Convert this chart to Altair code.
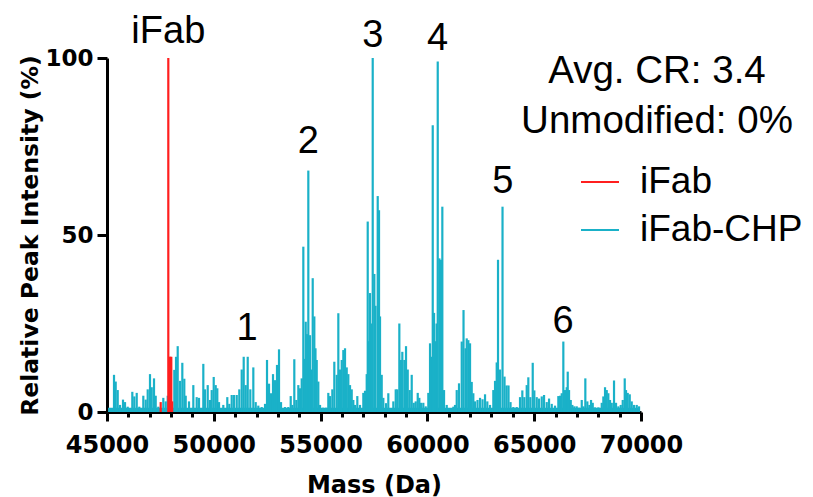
import altair as alt
import pandas as pd

# ---- data ----
chp_mass = [45328, 45407, 45501, 45609, 45749, 45843, 45969, 46185, 46278, 46391, 46512, 46700, 46812,
            46906, 47013, 47093, 47201, 47280, 47402, 47636, 47748, 47842, 48151, 48231, 48310, 48418,
            48526, 48619, 48685, 48839, 49041, 49200, 49307, 49509, 49588, 49715, 49822, 49902, 49996,
            50089, 50164, 50244, 50445, 50632, 50726, 50838, 50946, 51073, 51194, 51307, 51400, 51494,
            51588, 51709, 51850, 51962, 52084, 52243, 52398, 52491, 52585, 52678, 52772, 52866, 52959,
            53053, 53147, 53334, 53488, 53601, 53676, 53769, 53863, 53957, 54036, 54116, 54191, 54250,
            54303, 54360, 54425, 54504, 54570, 54631, 54706, 54760, 54818, 54893, 54973, 55113, 55254,
            55361, 55441, 55549, 55642, 55755, 55830, 55909, 55989, 56064, 56143, 56223, 56298, 56377,
            56457, 56532, 56611, 56719, 56845, 57000, 57079, 57159, 57206, 57260, 57313, 57380, 57440,
            57515, 57570, 57674, 57735, 57782, 57861, 57936, 58063, 58170, 58250, 58405, 58517, 58592,
            58686, 58765, 58826, 58920, 58999, 59079, 59172, 59266, 59360, 59453, 59547, 59622, 59701,
            59809, 59921, 60043, 60123, 60203, 60250, 60311, 60370, 60430, 60484, 60559, 60638, 60699,
            60779, 60905, 61059, 61214, 61293, 61373, 61480, 61607, 61691, 61785, 61841, 61916, 61996,
            62075, 62150, 62230, 62347, 62464, 62581, 62698, 62805, 62932, 63086, 63166, 63245, 63306,
            63400, 63517, 63611, 63705, 63798, 63892, 64023, 64182, 64336, 64444, 64538, 64650, 64725,
            64819, 64931, 65006, 65119, 65226, 65353, 65461, 65587, 65695, 65821, 65975, 66130, 66209,
            66289, 66364, 66444, 66523, 66570, 66631, 66711, 66786, 66879, 66991, 67099, 67226, 67301,
            67394, 67488, 67582, 67661, 67741, 67848, 68003, 68162, 68237, 68316, 68396, 68471, 68550,
            68630, 68737, 68831, 68939, 69051, 69145, 69238, 69299, 69379, 69473, 69566, 69674, 69800,
            69908]
chp_int = [10.5, 8.6, 6.2, 2.0, 3.5, 2.8, 1.5, 5.7, 4.4, 5.4, 1.5, 4.6, 3.5,
           6.4, 10.7, 7.0, 9.5, 4.6, 1.5, 4.0, 3.0, 4.6, 11.9, 15.6, 18.6, 8.8,
           13.9, 9.4, 4.6, 3.0, 7.6, 4.2, 4.0, 13.6, 6.4, 7.6, 3.4, 6.2, 9.9,
           7.6, 6.7, 2.8, 2.0, 4.2, 2.3, 4.8, 4.8, 4.8, 6.4, 12.0, 15.6, 7.6,
           15.6, 6.4, 12.6, 2.8, 1.8, 1.4, 2.3, 14.7, 8.0, 5.3, 10.7, 9.0, 13.3,
           17.7, 2.8, 1.4, 1.4, 4.5, 2.0, 14.9, 3.4, 7.6, 6.7, 9.5, 46.7, 15.0,
           25.5, 22.0, 68.2, 21.7, 12.0, 37.8, 27.0, 18.0, 14.7, 8.6, 2.0, 1.2, 1.2,
           5.4, 4.5, 6.4, 14.2, 10.5, 27.9, 12.0, 14.7, 17.5, 18.0, 12.6, 10.7, 7.6,
           6.4, 3.4, 2.0, 4.5, 2.0, 5.4, 6.0, 10.7, 53.8, 20.0, 33.6, 25.0, 100.0,
           39.0, 30.0, 61.0, 57.0, 27.0, 10.5, 4.0, 2.5, 5.3, 1.0, 3.0, 6.4, 6.4,
           25.0, 14.7, 17.0, 14.7, 18.6, 12.0, 6.2, 10.5, 2.6, 3.0, 5.4, 4.0, 2.6,
           2.6, 1.6, 5.4, 19.4, 15.6, 81.0, 28.0, 20.0, 25.0, 99.0, 43.4, 43.0, 58.0,
           6.2, 2.0, 1.0, 1.5, 2.0, 6.2, 8.1, 19.9, 28.8, 18.0, 20.8, 20.3, 19.4,
           8.5, 5.3, 3.0, 3.4, 4.0, 3.6, 5.0, 3.0, 2.0, 6.2, 8.8, 14.0, 43.0,
           12.0, 58.0, 10.0, 7.5, 7.5, 2.8, 1.4, 1.4, 4.2, 6.1, 4.2, 7.6, 9.8,
           4.2, 13.9, 6.1, 4.2, 3.8, 4.4, 4.8, 2.8, 3.8, 2.3, 1.8, 4.5, 4.6,
           5.3, 19.9, 6.2, 7.0, 11.4, 6.2, 3.4, 2.0, 1.6, 1.6, 1.2, 3.4, 1.6,
           9.5, 3.0, 2.0, 3.4, 2.6, 1.3, 1.3, 2.6, 4.4, 7.0, 6.2, 5.3, 3.4,
           2.6, 8.9, 2.6, 1.6, 2.0, 3.4, 9.5, 6.2, 5.4, 5.0, 3.0, 2.0, 2.0,
           1.6]

ifab_mass = [47514, 47870, 47920, 47965, 48010, 48050]
ifab_int = [2.8, 100.0, 15.6, 15.6, 15.6, 3.0]

baseline_mass = [45050, 69950]
baseline_level = [1.2, 1.2]

series_names = ["iFab", "iFab-CHP"]
series_colors = ["#ff1f1f", "#1ab1c8"]

peak_labels = ["iFab", "1", "2", "3", "4", "5", "6"]
peak_label_mass = [47870, 51555, 54425, 57450, 60470, 63530, 66355]
peak_label_y = [104.2, 20.3, 73.2, 103.1, 102.3, 61.9, 22.3]

stat_text = "Avg. CR: 3.4\nUnmodified: 0%"

x_ticks = list(range(45000, 70001, 1000))
y_ticks = [0, 50, 100]

# ---- tables ----
spec_df = pd.DataFrame({
    "mass": chp_mass + ifab_mass,
    "intensity": chp_int + ifab_int,
    "series": ["iFab-CHP"] * len(chp_mass) + ["iFab"] * len(ifab_mass),
})
base_df = pd.DataFrame({"mass": baseline_mass, "intensity": baseline_level})
lab_df = pd.DataFrame({"mass": peak_label_mass, "intensity": peak_label_y, "label": peak_labels})
stat_df = pd.DataFrame({"t": [stat_text]})

x_scale = alt.Scale(domain=[45000, 70000], nice=False, zero=False)
y_scale = alt.Scale(domain=[0, 100], nice=False)

x_axis = alt.Axis(
    values=x_ticks, format="d",
    labelExpr="datum.value % 5000 === 0 ? datum.label : ''",
    labelFlush=False, labelOverlap=False,
    tickSize={"condition": {"test": "datum.value % 5000 === 0", "value": 9}, "value": 5},
    tickWidth=3, tickColor="black", domainWidth=3, domainColor="black",
    labelFont="DejaVu Sans", labelFontWeight="bold", labelFontSize=24, labelColor="black",
    labelPadding=12,
    title="Mass (Da)", titleFont="DejaVu Sans", titleFontWeight="bold", titleFontSize=24,
    titleColor="black", titleY=80, titleBaseline="alphabetic", grid=False,
)
y_axis = alt.Axis(
    values=y_ticks, tickSize=10, tickWidth=3, tickColor="black",
    domainWidth=3, domainColor="black",
    labelFont="DejaVu Sans", labelFontWeight="bold", labelFontSize=23, labelColor="black",
    labelPadding=4,
    title="Relative Peak Intensity (%)", titleFont="DejaVu Sans", titleFontWeight="bold",
    titleFontSize=23.5, titleColor="black", titleX=-70, titleY=177,
    titleBaseline="alphabetic", titleAlign="center", grid=False,
)

X = alt.X("mass:Q", scale=x_scale, axis=x_axis)
Y = alt.Y("intensity:Q", scale=y_scale, axis=y_axis)

baseline = alt.Chart(base_df).mark_area(color=series_colors[1], opacity=1).encode(x=X, y=Y)

rules = alt.Chart(spec_df).mark_rule(strokeWidth=2.2).encode(
    x=X, y=Y, y2=alt.datum(0),
    color=alt.Color("series:N", scale=alt.Scale(domain=series_names, range=series_colors),
                    legend=alt.Legend(title=None, orient="none", legendX=473, legendY=104,
                                      symbolType="stroke", symbolSize=1444, symbolStrokeWidth=2,
                                      labelFont="Liberation Sans", labelFontSize=37,
                                      labelColor="black", labelOffset=20, rowPadding=10,
                                      labelLimit=0, padding=0)),
)

labels = alt.Chart(lab_df).mark_text(
    font="Liberation Sans", fontSize=38, color="black", baseline="alphabetic", align="center"
).encode(x=X, y=Y, text="label:N")

stats = alt.Chart(stat_df).mark_text(
    font="Liberation Sans", fontSize=38.5, color="black", baseline="alphabetic", align="center",
    lineBreak="\n", lineHeight=50,
).encode(x=alt.value(550), y=alt.value(25), text="t:N")

chart = alt.layer(baseline, rules, labels, stats).properties(
    width=534, height=354,
    padding={"left": 99, "top": 50, "right": 164, "bottom": 100},
    autosize=alt.AutoSizeParams(type="none"),
).configure_view(stroke=None)

chart.save("out.html", embed_options={"renderer": "svg", "actions": False})
